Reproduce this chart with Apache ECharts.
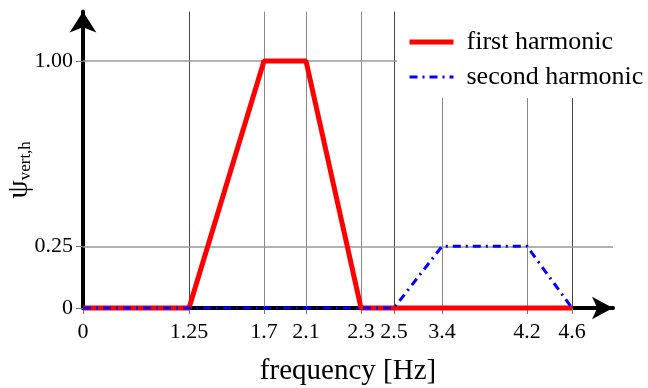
<!DOCTYPE html>
<html>
<head>
<meta charset="utf-8">
<script src="https://cdn.jsdelivr.net/npm/echarts@6/dist/echarts.min.js"></script>
<style>
html,body{margin:0;padding:0;background:#fff;}
#chart{width:648px;height:388px;}
</style>
</head>
<body>
<div id="chart"></div>
<script>
// ---- data ----
const tickFreqs  = [0, 1.25, 1.7, 2.1, 2.3, 2.5, 3.4, 4.2, 4.6];
const tickLabels = ['0', '1.25', '1.7', '2.1', '2.3', '2.5', '3.4', '4.2', '4.6'];
const firstFreq  = [0, 1.25, 1.7, 2.1, 2.3, 4.6];
const firstVal   = [0, 0, 1, 1, 0, 0];
const secondFreq = [0, 2.5, 3.4, 4.2, 4.6];
const secondVal  = [0, 0, 0.25, 0.25, 0];
const yTicks     = [0, 0.25, 1];
const yTickLabels = ['0', '0.25', '1.00'];
const seriesNames = ['first harmonic', 'second harmonic'];

// ---- schematic (non-linear) x scale: frequency ticks -> axis units ----
const tickSlots = [0, 106, 181, 223, 278, 311, 359, 444, 489];
const axisEndSlot = 530;
function slot(f) {
  for (let i = 0; i < tickFreqs.length - 1; i++) {
    const a = tickFreqs[i], b = tickFreqs[i + 1];
    if (f >= a && f <= b) return tickSlots[i] + (f - a) / (b - a) * (tickSlots[i + 1] - tickSlots[i]);
  }
  return tickSlots[tickSlots.length - 1];
}
const FONT = 'Liberation Serif';
const yMax = 1.2;

const gridLines = [];
tickFreqs.forEach(function (f, i) {
  if (i === 0) return;
  const top = f <= 2.5 ? yMax : 0.85;
  const dark = (f === 1.25 || f === 2.5 || f === 4.6);
  gridLines.push([{coord: [slot(f), 0], lineStyle: {color: dark ? '#444' : '#888', width: 1}},
                  {coord: [slot(f), top]}]);
});
gridLines.push([{coord: [0, 1], lineStyle: {color: '#999', width: 1.5}}, {coord: [slot(2.5) + 3, 1]}]);
gridLines.push([{coord: [0, 0.25], lineStyle: {color: '#999', width: 1.5}}, {coord: [axisEndSlot, 0.25]}]);

const chart = echarts.init(document.getElementById('chart'), null, {renderer: 'canvas'});
chart.setOption({
  animation: false,
  backgroundColor: '#fff',
  grid: {left: 83, top: 308 - yMax * 247, width: axisEndSlot, height: yMax * 247,
         containLabel: false, outerBoundsMode: 'none'},
  legend: {
    data: seriesNames,
    orient: 'vertical',
    left: 407,
    top: 29,
    padding: 0,
    itemWidth: 44,
    itemHeight: 14,
    itemGap: 9,
    selectedMode: false,
    lineStyle: {width: 'inherit'},
    itemStyle: {color: 'transparent', borderWidth: 0, opacity: 0},
    textStyle: {fontFamily: FONT, fontSize: 26, color: '#000', lineHeight: 26, padding: [0, 0, 0, 8]}
  },
  xAxis: {
    type: 'value', min: 0, max: axisEndSlot,
    name: 'frequency [Hz]', nameLocation: 'middle', nameGap: 49, nameMoveOverlap: false,
    nameTextStyle: {fontFamily: FONT, fontSize: 29, color: '#000'},
    axisLine: {onZero: true, lineStyle: {color: '#000', width: 4},
      symbol: ['none', 'arrow'], symbolSize: [17, 21], symbolOffset: [0, 0]},
    axisTick: {show: true, customValues: tickFreqs.map(slot), length: 6, lineStyle: {color: '#777', width: 1}},
    axisLabel: {customValues: tickFreqs.map(slot), margin: 13, fontFamily: FONT, fontSize: 22, color: '#000',
      formatter: function (v) { const i = tickFreqs.map(slot).findIndex(s => Math.abs(s - v) < 0.01); return i >= 0 ? tickLabels[i] : ''; }},
    splitLine: {show: false}
  },
  yAxis: {
    type: 'value', min: 0, max: yMax,
    name: '{a|ψ}{b|vert,h}', nameLocation: 'middle', nameRotate: 90, nameGap: 49, nameMoveOverlap: false,
    nameTextStyle: {padding: [0, 20, 0, 0], rich: {
      a: {fontFamily: FONT, fontSize: 29, color: '#000', lineHeight: 30, verticalAlign: 'middle'},
      b: {fontFamily: FONT, fontSize: 17, color: '#000', lineHeight: 30, verticalAlign: 'bottom'}}},
    axisLine: {lineStyle: {color: '#000', width: 4},
      symbol: ['none', 'arrow'], symbolSize: [20, 21], symbolOffset: [0, 0]},
    axisTick: {show: true, customValues: yTicks, length: 7, lineStyle: {color: '#777', width: 1}},
    axisLabel: {customValues: yTicks, margin: 10, fontFamily: FONT, fontSize: 22, color: '#000',
      formatter: function (v) { const i = yTicks.findIndex(t => Math.abs(t - v) < 1e-6); return i >= 0 ? yTickLabels[i] : ''; }},
    splitLine: {show: false}
  },
  series: [
    {
      name: 'grid', type: 'line', data: [], z: 1, silent: true,
      markLine: {z: 1, silent: true, symbol: ['none', 'none'], label: {show: false}, animation: false,
        lineStyle: {type: 'solid'}, data: gridLines}
    },
    {
      name: seriesNames[0], type: 'line', z: 3, clip: false, showSymbol: false, symbol: 'none',
      lineStyle: {color: '#ff0000', width: 5}, itemStyle: {color: '#ff0000'},
      data: firstFreq.map((f, i) => [slot(f), firstVal[i]])
    },
    {
      name: seriesNames[1], type: 'line', z: 4, clip: false, showSymbol: false, symbol: 'none',
      lineStyle: {color: '#0000ff', width: 3, type: [8, 5, 2, 5]}, itemStyle: {color: '#0000ff'},
      data: secondFreq.map((f, i) => [slot(f), secondVal[i]])
    }
  ]
});
</script>
</body>
</html>
